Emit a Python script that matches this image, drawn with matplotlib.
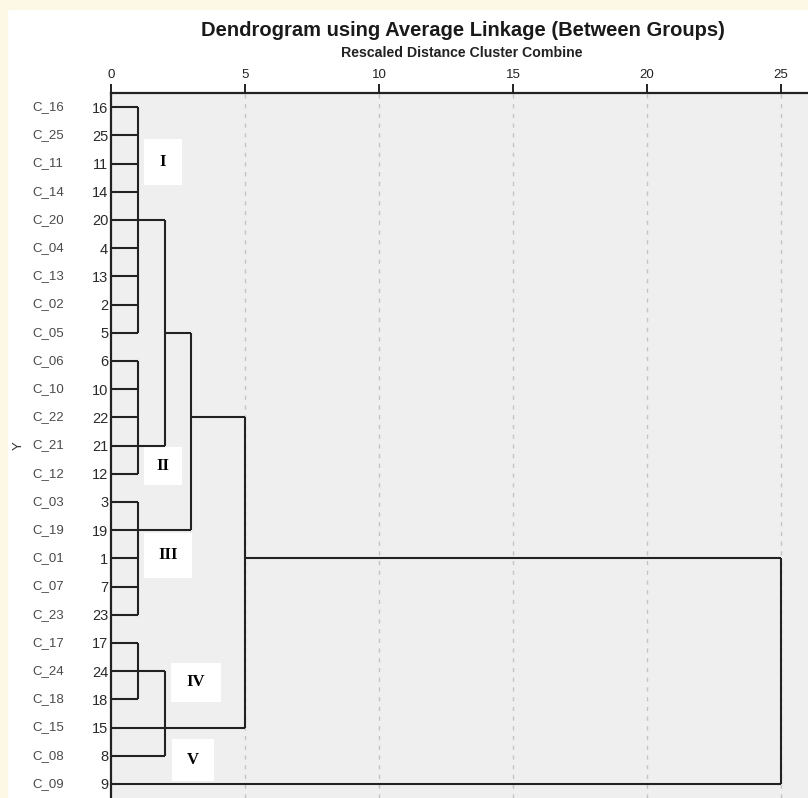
import matplotlib
matplotlib.use("Agg")
import matplotlib.pyplot as plt
from matplotlib.patches import Rectangle

# cases in dendrogram order (top to bottom)
case_labels = ['C_16', 'C_25', 'C_11', 'C_14', 'C_20', 'C_04', 'C_13', 'C_02', 'C_05',
               'C_06', 'C_10', 'C_22', 'C_21', 'C_12', 'C_03', 'C_19', 'C_01', 'C_07',
               'C_23', 'C_17', 'C_24', 'C_18', 'C_15', 'C_08', 'C_09']
case_numbers = [16, 25, 11, 14, 20, 4, 13, 2, 5, 6, 10, 22, 21, 12, 3, 19, 1, 7, 23,
                17, 24, 18, 15, 8, 9]

# merges: members (case numbers or earlier merge names), rescaled distance,
# and the case on whose row the joined cluster continues
merge_names = ['I', 'II', 'I+II', 'III', 'I-III', 'IV', 'IV+V', 'I-V', 'all']
merge_members = [
    [16, 25, 11, 14, 20, 4, 13, 2, 5],
    [6, 10, 22, 21, 12],
    ['I', 'II'],
    [3, 19, 1, 7, 23],
    ['I+II', 'III'],
    [17, 24, 18],
    ['IV', 15, 8],
    ['I-III', 'IV+V'],
    ['I-V', 9],
]
merge_heights = [1, 1, 2, 1, 3, 1, 2, 5, 25]
merge_rows = [20, 21, 5, 19, 22, 24, 15, 1, 1]

x_ticks = [0, 5, 10, 15, 20, 25]
group_labels = ['I', 'II', 'III', 'IV', 'V']

# label boxes (x0, x1, row0, row1) in data units
group_boxes = [(1.23, 2.65, 1.13, 2.76), (1.23, 2.65, 12.05, 13.4),
               (1.23, 3.02, 15.1, 16.7), (2.24, 4.1, 19.7, 21.1),
               (2.28, 3.85, 22.4, 23.9)]

W, H = 808, 798
fig = plt.figure(figsize=(W / 100, H / 100), dpi=100)
fig.patch.set_facecolor('white')

# cream frame at top and left
cream = '#fdf8e6'
fig.patches.append(Rectangle((0, 1 - 9 / H), 1, 9 / H, transform=fig.transFigure,
                             color=cream, zorder=0))
fig.patches.append(Rectangle((0, 0), 7 / W, 1, transform=fig.transFigure,
                             color=cream, zorder=0))

ax = fig.add_axes([111 / W, 0, 1 - 111 / W, 1 - 93 / H])
ax.set_facecolor('#efefef')
ax.set_xlim(0, (W - 111) / 26.8)
ax.set_ylim(24.5, -0.5)

line_kw = dict(color='#222222', lw=1.5, zorder=3, solid_capstyle='butt')
row_of = {c: i for i, c in enumerate(case_numbers)}
pos = {c: (row_of[c], 0.0) for c in case_numbers}
for name, members, h, rep in zip(merge_names, merge_members, merge_heights, merge_rows):
    rows = [pos[m][0] for m in members]
    ax.plot([h, h], [min(rows), max(rows)], **line_kw)
    for m in members:
        r, x0 = pos[m]
        ax.plot([x0, h], [r, r], **line_kw)
    pos[name] = (row_of[rep], h)

for g, (x0, x1, r0, r1) in zip(group_labels, group_boxes):
    ax.add_patch(Rectangle((x0, r0), x1 - x0, r1 - r0, facecolor='white',
                           edgecolor='none', zorder=2))
    ax.text((x0 + x1) / 2, (r0 + r1) / 2, g, ha='center', va='center',
            family='Liberation Serif', weight='bold', fontsize=12, zorder=4)

# grid
for t in x_ticks[1:]:
    ax.axvline(t, color='#c4c4c4', lw=1, ls=(0, (3, 4)), zorder=1)

ax.xaxis.tick_top()
ax.set_xticks(x_ticks)
ax.set_xticklabels([str(t) for t in x_ticks], family='Liberation Sans', fontsize=9.5,
                   color='#222222')
ax.tick_params(axis='x', length=6.5, width=1.4, pad=2, color='#222222')

ax.set_yticks(range(len(case_numbers)))
ax.set_yticklabels([str(n) for n in case_numbers], family='Liberation Sans',
                   fontsize=10.5, color='#2a2a2a')
ax.tick_params(axis='y', length=0, pad=2)

for i, lab in enumerate(case_labels):
    ax.text(-0.1133, i, lab, transform=ax.get_yaxis_transform(), ha='left',
            va='center', family='Liberation Sans', fontsize=9.5, color='#4a4a4a')

ax.set_ylabel('Y', family='Liberation Sans', fontsize=9.5, color='#333333')
ax.yaxis.set_label_coords(-0.124, 0.5)

for s in ['right', 'bottom']:
    ax.spines[s].set_visible(False)
for s in ['top', 'left']:
    ax.spines[s].set_linewidth(1.6)
    ax.spines[s].set_color('#222222')

fig.text(463 / W, 1 - 31 / H, 'Dendrogram using Average Linkage (Between Groups)',
         ha='center', va='center', family='Liberation Sans', weight='bold',
         fontsize=14.5, color='#1a1a1a')
fig.text(462 / W, 1 - 53 / H, 'Rescaled Distance Cluster Combine', ha='center',
         va='center', family='Liberation Sans', weight='bold', fontsize=10.2,
         color='#222222')

fig.savefig('out.png', dpi=100)
